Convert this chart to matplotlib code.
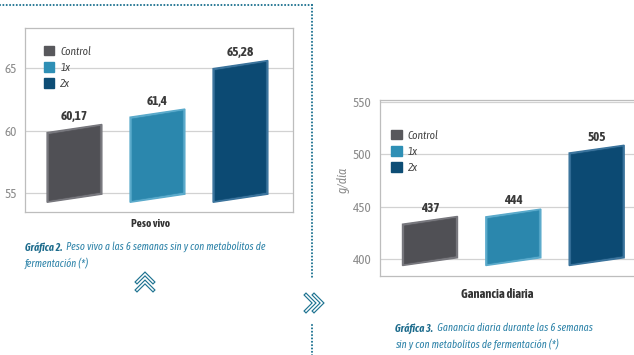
import matplotlib
matplotlib.use("Agg")
import matplotlib.pyplot as plt
from matplotlib.lines import Line2D
from matplotlib.patches import Patch

# data
series = ["Control", "1x", "2x"]
peso_vivo = [60.17, 61.4, 65.28]
ganancia = [437, 444, 505]
peso_ticks = [55, 60, 65]
gan_ticks = [400, 450, 500, 550]

bar_colors = ["#505055", "#2b87ad", "#0c4a73"]
edge_colors = ["#77777d", "#5aaacb", "#3a739c"]
legend_colors = ["#58585c", "#2e8fb5", "#0d4d75"]
teal = "#1f7391"

# condensed look (Myriad Condensed in the original), falls back if missing
plt.rcParams["font.family"] = ["Asap Condensed", "Archivo Narrow", "Liberation Sans Narrow",
                               "Liberation Sans", "DejaVu Sans"]
narrow = ["Fira Sans Extra Condensed", "Barlow Condensed", "Roboto Condensed",
          "Asap Condensed", "Liberation Sans", "DejaVu Sans"]

W, H = 634, 355
fig = plt.figure(figsize=(W / 100, H / 100), dpi=100)


def rect(l, t, r, b):
    return [l / W, 1 - b / H, (r - l) / W, (b - t) / H]


def fx(x):
    return x / W


def fy(y):
    return 1 - y / H


BAR_W = 0.66


def draw_chart(ax, values, ticks, ylim, base, xlim):
    span = ylim[1] - ylim[0]
    slant = 0.022 * span
    ax.set_ylim(*ylim)
    ax.set_xlim(*xlim)
    ax.set_yticks(ticks)
    ax.set_xticks([])
    ax.tick_params(axis="y", length=0, labelsize=9.5, labelcolor="#8c8c8c", pad=6)
    for s in ax.spines.values():
        s.set_color("#bdbdbd")
        s.set_linewidth(0.9)
    ax.grid(axis="y", color="#d2d2d2", linewidth=0.9)
    ax.set_axisbelow(True)

    for i, v in enumerate(values):
        x0, x1 = i - BAR_W / 2, i + BAR_W / 2
        # outer bevel
        ax.fill([x0, x1, x1, x0],
                [base - slant, base + slant, v + slant, v - slant],
                color=edge_colors[i], zorder=3)
        dx = 0.024
        dy = slant * 0.45
        ax.fill([x0 + dx, x1 - dx, x1 - dx, x0 + dx],
                [base - slant + dy, base + slant + dy, v + slant - dy, v - slant - dy],
                color=bar_colors[i], zorder=4, ec=bar_colors[i], lw=0.5)
        lbl = f"{v}".replace(".", ",")
        ax.annotate(lbl, (i, v), xytext=(0, 4), textcoords="offset points",
                    ha="center", va="bottom", fontsize=9.5, fontweight="bold",
                    color="#3a3a3a")


leg_kw = dict(loc="upper left", frameon=False, handlelength=0.9, handleheight=0.9,
              handletextpad=0.55, labelspacing=0.45,
              prop=dict(style="italic", size=8.2), labelcolor="#444444")

# left chart
ax1 = fig.add_axes(rect(25, 28, 293, 212))
draw_chart(ax1, peso_vivo, peso_ticks, (53.5, 68.2), 54.6, (-0.596, 2.633))
handles = [Patch(facecolor=c, edgecolor=c) for c in legend_colors]
ax1.legend(handles, series, bbox_to_anchor=(0.032, 0.96), **leg_kw)

# right chart
ax2 = fig.add_axes(rect(380, 100, 650, 276))
draw_chart(ax2, ganancia, gan_ticks, (383.8, 551.9), 397.5, (-0.6, 2.64))
ax2.legend(handles, series, bbox_to_anchor=(0.004, 0.89), **leg_kw)
fig.text(fx(343), fy(180), "g/día", rotation=90, ha="center", va="center",
         fontsize=9.5, style="italic", color="#8c8c8c")

renderer = fig.canvas.get_renderer()


def fit(texts, target):
    # shrink/grow a group of texts so they span the width seen in the picture
    fig.canvas.draw()
    boxes = [t.get_window_extent(renderer) for t in texts]
    width = max(b.x1 for b in boxes) - min(b.x0 for b in boxes)
    k = target / width
    for t in texts:
        t.set_fontsize(t.get_fontsize() * k)


# category labels
lab1 = fig.text(fx(151), fy(223), "Peso vivo", ha="center", va="center",
                fontsize=10, fontweight="bold", color="#333333")
lab2 = fig.text(fx(497), fy(294), "Ganancia diaria", ha="center", va="center",
                fontsize=10, fontweight="bold", color="#333333")
fit([lab1], 39)
fit([lab2], 71)


def caption(x, y, head, first, second, width):
    t = fig.text(fx(x), fy(y), head, ha="left", va="center", fontsize=10,
                 style="italic", fontweight="bold", color="#1c6b8c", family=narrow)
    a = plt.Annotation("  " + first, xy=(1, 0.5), xycoords=t,
                       ha="left", va="center", fontsize=10,
                       style="italic", color="#2c82a8", family=narrow)
    fig.add_artist(a)
    s = fig.text(fx(x), fy(y + 16), second, ha="left", va="center", fontsize=10,
                 style="italic", color="#2c82a8", family=narrow)
    fit([t, a], width)
    s.set_fontsize(t.get_fontsize())


caption(25, 247, "Gráfica 2.", "Peso vivo a las 6 semanas sin y con metabolitos de",
        "fermentación (*)", 242)
caption(395, 328, "Gráfica 3.", "Ganancia diaria durante las 6 semanas",
        "sin y con metabolitos de fermentación (*)", 198)

# dotted frame
dot = dict(color=teal, linewidth=1.5, linestyle=(0, (0.01, 1.6)),
           dash_capstyle="round", transform=fig.transFigure)
fig.add_artist(Line2D([fx(0), fx(312)], [fy(5), fy(5)], **dot))
fig.add_artist(Line2D([fx(312), fx(312)], [fy(5), fy(279)], **dot))
fig.add_artist(Line2D([fx(312), fx(312)], [fy(325), fy(356)], **dot))


# chevron icons
def chevron(xs, ys):
    fig.add_artist(Line2D([fx(x) for x in xs], [fy(y) for y in ys], color=teal,
                          linewidth=2.8, transform=fig.transFigure,
                          solid_joinstyle="miter"))
    fig.add_artist(Line2D([fx(x) for x in xs], [fy(y) for y in ys], color="white",
                          linewidth=1.1, transform=fig.transFigure,
                          solid_joinstyle="miter"))


cx, cy = 145, 282
for off in (-4, 4):
    chevron([cx - 8, cx, cx + 8], [cy + off + 4, cy + off - 4, cy + off + 4])
cx, cy = 314, 303
for off in (-4, 4):
    chevron([cx + off - 4, cx + off + 4, cx + off - 4], [cy - 8, cy, cy + 8])

fig.savefig("out.png", dpi=100)
